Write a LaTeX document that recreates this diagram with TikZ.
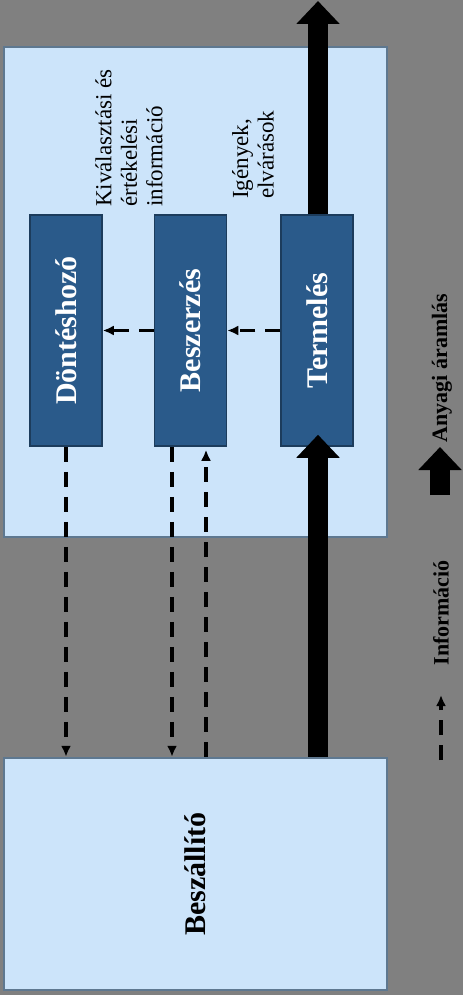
\documentclass[tikz,border=0pt]{standalone}
\usepackage{fontspec}
\setmainfont{Liberation Serif}
\usepackage{xcolor}
\usetikzlibrary{arrows.meta, positioning}
\definecolor{bggray}{HTML}{808080}
\definecolor{lightbox}{HTML}{CCE4FA}
\definecolor{lightedge}{HTML}{5E7890}
\definecolor{darkbox}{HTML}{2A5A8A}
\definecolor{darkedge}{HTML}{1C3C5C}

\begin{document}
\begin{tikzpicture}[
  x=1pt, y=-1pt,
  bigbox/.style={draw=lightedge, line width=2.5pt, fill=lightbox, minimum width=383pt,
                 inner sep=0pt, font=\bfseries\fontsize{30}{32}\selectfont},
  unit/.style={draw=darkedge, line width=1.5pt, fill=darkbox, minimum width=72pt,
               minimum height=231pt, inner sep=0pt, text=white,
               font=\bfseries\fontsize{30}{32}\selectfont},
  note/.style={rotate=90, align=left, inner sep=0pt, font=\fontsize{23}{25.5}\selectfont},
  legend/.style={inner sep=0pt, font=\bfseries\fontsize{22}{24}\selectfont},
  info/.style={-{Latex[length=11pt, width=10pt]}, line width=3.2pt, dash pattern=on 15pt off 10pt},
  anyag/.style={-{Triangle[length=23pt, width=42pt]}, line width=20pt},
]

% background
\useasboundingbox (0,0) rectangle (463,995);
\fill[bggray] (0,0) rectangle (463,995);

% Company and supplier
\node[bigbox, minimum height=490pt] (vallalat) at (195.5,292) {};
\node[bigbox, minimum height=232pt] (beszallito) at (195.5,874) {\rotatebox{90}{Beszállító}};

% Departments
\node[unit] (dontes) at (66,330.5) {\rotatebox{90}{Döntéshozó}};
\node[unit] (beszerzes) at (190.5,330.5) {\rotatebox{90}{Beszerzés}};
\node[unit] (termeles) at (317,330.5) {\rotatebox{90}{Termelés}};

% Labels
\node[note, anchor=west] (valinfo) at (129,207) {Kiválasztási és\\értékelési\\információ};
\node[note, anchor=west] (igenyek) at (253,199) {Igények,\\elvárások};

% Information flows
\coordinate (bsz le) at ([xshift=-18.5pt]beszerzes.south);
\coordinate (bsz fel) at ([xshift=15.5pt]beszerzes.south);
\draw[info] (termeles) -- (beszerzes);
\draw[info] (beszerzes) -- (dontes);
\draw[info] (dontes.south) -- (dontes.south |- beszallito.north);
\draw[info] (bsz le) -- (bsz le |- beszallito.north);
\draw[info] (bsz fel |- beszallito.north) -- ([yshift=-3pt]bsz fel);

% Material flow
\coordinate (kimenet) at (318,1);
\draw[anyag] (beszallito.north -| kimenet) -- ([yshift=12pt]termeles.south -| kimenet);
\draw[anyag] (termeles.north -| kimenet) -- (kimenet);

% Legend
\node[legend] (anyagfelirat) at (442,368) {\rotatebox{90}{Anyagi áramlás}};
\node[legend] (infofelirat) at (441,613) {\rotatebox{90}{Információ}};
\coordinate (anyag ki) at (440,495);
\coordinate (anyag be) at (440,447);
\coordinate (info ki) at (441,760);
\coordinate (info be) at (441,695);
\draw[anyag] (anyag ki) -- (anyag be);
\draw[info] (info ki) -- (info be);

\end{tikzpicture}
\end{document}
